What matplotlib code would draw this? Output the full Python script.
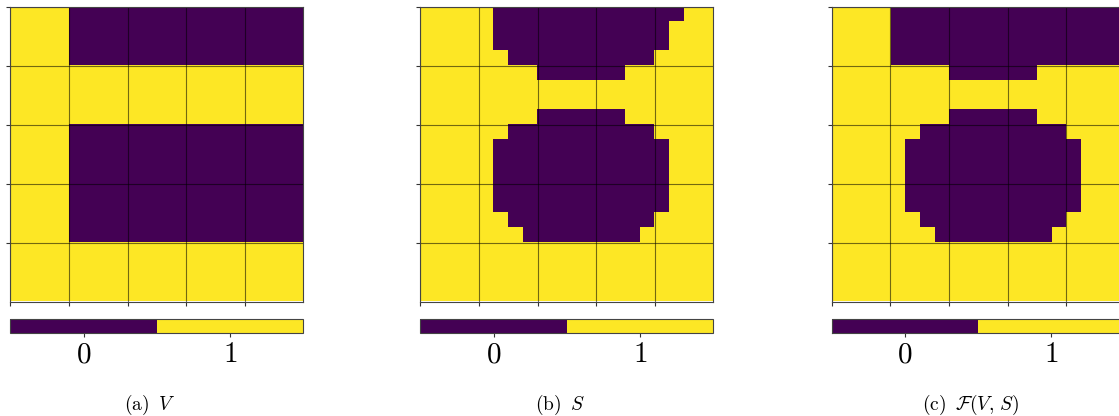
import numpy as np
import matplotlib
matplotlib.use("Agg")
import matplotlib.pyplot as plt
from matplotlib.colors import ListedColormap, BoundaryNorm

plt.rcParams["mathtext.fontset"] = "cm"

# Binary fields: 1 = yellow, 0 = purple (rows from top to bottom)
V_rows = [
    "10000",
    "11111",
    "10000",
    "10000",
    "11111",
]

S_rows = [
    "11111000000000000011",
    "11111000000000000111",
    "11111000000000000111",
    "11111100000000001111",
    "11111111000000111111",
    "11111111111111111111",
    "11111111111111111111",
    "11111111000000111111",
    "11111100000000001111",
    "11111000000000000111",
    "11111000000000000111",
    "11111000000000000111",
    "11111000000000000111",
    "11111000000000000111",
    "11111100000000001111",
    "11111110000000011111",
    "11111111111111111111",
    "11111111111111111111",
    "11111111111111111111",
    "11111111111111111111",
]

F_rows = [
    "11110000000000000000",
    "11110000000000000000",
    "11110000000000000000",
    "11110000000000000000",
    "11111111000000111111",
    "11111111111111111111",
    "11111111111111111111",
    "11111111000000111111",
    "11111100000000001111",
    "11111000000000000111",
    "11111000000000000111",
    "11111000000000000111",
    "11111000000000000111",
    "11111000000000000111",
    "11111100000000001111",
    "11111110000000011111",
    "11111111111111111111",
    "11111111111111111111",
    "11111111111111111111",
    "11111111111111111111",
]

captions = [r"$\mathrm{(a)}\;\; V$", r"$\mathrm{(b)}\;\; S$",
            r"$\mathrm{(c)}\;\; \mathcal{F}(V,\, S)$"]
cbar_ticks = [0, 1]
cbar_ticklabels = [r"$0$", r"$1$"]
grid_cells = 5


def to_array(rows):
    return np.array([[int(c) for c in r] for r in rows])


fields = [to_array(V_rows), to_array(S_rows), to_array(F_rows)]

cmap = ListedColormap(["#440154", "#fde725"])
norm = BoundaryNorm([-0.5, 0.5, 1.5], cmap.N)

W, H = 1119, 416
fig = plt.figure(figsize=(W / 100, H / 100), dpi=100)

lefts = [10.3, 420.3, 831.7]
ax_w = 293.0
ax_top, ax_bot = 6.7, 301.5
cb_top, cb_bot = 318.5, 333.3
cap_x = [149.5, 560.0, 970.5]
cap_base = 409.5

for i, data in enumerate(fields):
    ax = fig.add_axes([lefts[i] / W, (H - ax_bot) / H, ax_w / W, (ax_bot - ax_top) / H])
    im = ax.imshow(data, cmap=cmap, norm=norm, extent=[0, grid_cells, grid_cells, 0],
                   interpolation="nearest", aspect="auto")
    ticks = np.arange(grid_cells)
    ax.set_xticks(ticks)
    ax.set_yticks(ticks)
    ax.set_xticklabels([])
    ax.set_yticklabels([])
    ax.tick_params(length=3, width=0.8, color="#333333")
    ax.grid(True, color="black", linewidth=0.8, alpha=0.55)
    for sp in ax.spines.values():
        sp.set_linewidth(0.8)
        sp.set_color("#444444")

    cax = fig.add_axes([lefts[i] / W, (H - cb_bot) / H, ax_w / W, (cb_bot - cb_top) / H])
    cb = fig.colorbar(im, cax=cax, orientation="horizontal", ticks=cbar_ticks)
    cb.set_ticklabels(cbar_ticklabels)
    cb.minorticks_off()
    cb.ax.tick_params(labelsize=21, length=3, width=0.8, pad=2, color="#333333")
    cb.outline.set_linewidth(0.8)
    cb.outline.set_edgecolor("#444444")

    fig.text(cap_x[i] / W, (H - cap_base) / H, captions[i], ha="center", va="baseline",
             fontsize=14)

fig.savefig("out.png", dpi=100)
